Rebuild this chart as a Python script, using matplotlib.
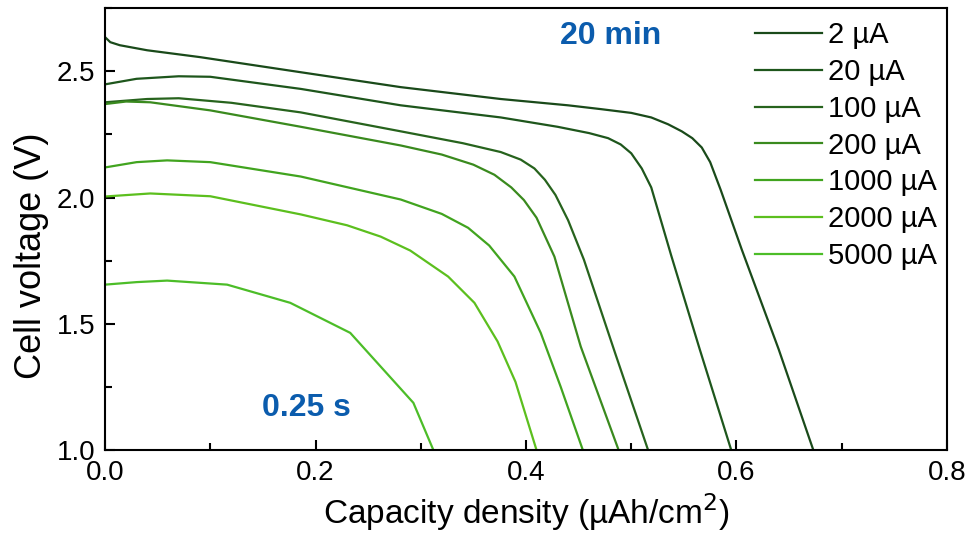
import matplotlib
matplotlib.use("Agg")
import matplotlib.pyplot as plt
from matplotlib.ticker import MultipleLocator

plt.rcParams['font.family'] = ['Liberation Sans', 'DejaVu Sans']

labels = ["2 µA", "20 µA", "100 µA", "200 µA", "1000 µA", "2000 µA", "5000 µA"]
colors = ["#1a4a1a", "#1e561c", "#27631d", "#3a8a1e", "#41a41f", "#5cbf1e", "#4cbd28"]

# capacity density (µAh/cm2) and cell voltage (V)
x_2 = [0.0, 0.005, 0.014, 0.04, 0.09, 0.186, 0.281, 0.376, 0.44, 0.471, 0.50, 0.519, 0.535, 0.548, 0.558, 0.567, 0.575, 0.585, 0.605, 0.64, 0.673]
v_2 = [2.635, 2.615, 2.603, 2.583, 2.556, 2.496, 2.437, 2.39, 2.365, 2.35, 2.335, 2.317, 2.29, 2.262, 2.235, 2.198, 2.14, 2.03, 1.794, 1.40, 1.0]

x_20 = [0.0, 0.03, 0.07, 0.1, 0.186, 0.281, 0.376, 0.43, 0.46, 0.478, 0.49, 0.50, 0.51, 0.519, 0.538, 0.565, 0.595]
v_20 = [2.448, 2.47, 2.48, 2.478, 2.43, 2.365, 2.317, 2.28, 2.255, 2.235, 2.21, 2.175, 2.115, 2.04, 1.77, 1.40, 1.0]

x_100 = [0.0, 0.04, 0.07, 0.12, 0.186, 0.281, 0.34, 0.376, 0.395, 0.408, 0.418, 0.428, 0.44, 0.455, 0.485, 0.516]
v_100 = [2.377, 2.39, 2.393, 2.375, 2.337, 2.262, 2.215, 2.18, 2.15, 2.115, 2.07, 2.01, 1.91, 1.754, 1.38, 1.0]

x_200 = [0.0, 0.02, 0.043, 0.1, 0.186, 0.281, 0.32, 0.35, 0.37, 0.386, 0.398, 0.41, 0.427, 0.452, 0.488]
v_200 = [2.37, 2.38, 2.377, 2.345, 2.28, 2.206, 2.17, 2.13, 2.09, 2.04, 1.99, 1.92, 1.766, 1.41, 1.0]

x_1000 = [0.0, 0.03, 0.059, 0.1, 0.186, 0.281, 0.32, 0.345, 0.365, 0.389, 0.414, 0.433, 0.454]
v_1000 = [2.119, 2.14, 2.147, 2.14, 2.083, 1.992, 1.935, 1.88, 1.81, 1.687, 1.464, 1.25, 1.0]

x_2000 = [0.0, 0.043, 0.1, 0.186, 0.23, 0.262, 0.29, 0.326, 0.351, 0.373, 0.39, 0.41]
v_2000 = [2.004, 2.016, 2.005, 1.933, 1.89, 1.845, 1.79, 1.687, 1.583, 1.43, 1.27, 1.0]

x_5000 = [0.0, 0.03, 0.059, 0.116, 0.176, 0.233, 0.293, 0.312]
v_5000 = [1.655, 1.665, 1.671, 1.655, 1.583, 1.464, 1.187, 1.0]

xs = [x_2, x_20, x_100, x_200, x_1000, x_2000, x_5000]
vs = [v_2, v_20, v_100, v_200, v_1000, v_2000, v_5000]

fig = plt.figure(figsize=(9.67, 5.39), dpi=100)
ax = fig.add_axes([0.1086, 0.165, 0.8707, 0.820])

for x, v, c, lab in zip(xs, vs, colors, labels):
    ax.plot(x, v, color=c, lw=1.6, label=lab)

ax.set_xlim(0, 0.8)
ax.set_ylim(1.0, 2.75)
ax.xaxis.set_major_locator(MultipleLocator(0.2))
ax.xaxis.set_minor_locator(MultipleLocator(0.1))
ax.yaxis.set_major_locator(MultipleLocator(0.5))
ax.yaxis.set_minor_locator(MultipleLocator(0.25))
ax.tick_params(which='both', direction='in', width=1.5, labelsize=20, pad=7)
ax.tick_params(which='major', length=7)
ax.tick_params(which='minor', length=5)
for s in ax.spines.values():
    s.set_linewidth(1.5)

ax.set_xlabel("Capacity density (µAh/cm$^2$)", fontsize=24, labelpad=4)
ax.set_ylabel("Cell voltage (V)", fontsize=26)
ax.yaxis.set_label_coords(-0.067, 0.44)

ax.text(0.48, 2.64, "20 min", color="#0b5cad", fontsize=23, fontweight='bold',
        ha='center', va='center')
ax.text(0.191, 1.165, "0.25 s", color="#0b5cad", fontsize=23, fontweight='bold',
        ha='center', va='center')

ax.legend(loc='upper left', bbox_to_anchor=(0.772, 0.97), frameon=False,
          fontsize=21, handlelength=2.3, handletextpad=0.2, labelspacing=0.3,
          borderpad=0, borderaxespad=0)

fig.savefig("out.png", dpi=100)
